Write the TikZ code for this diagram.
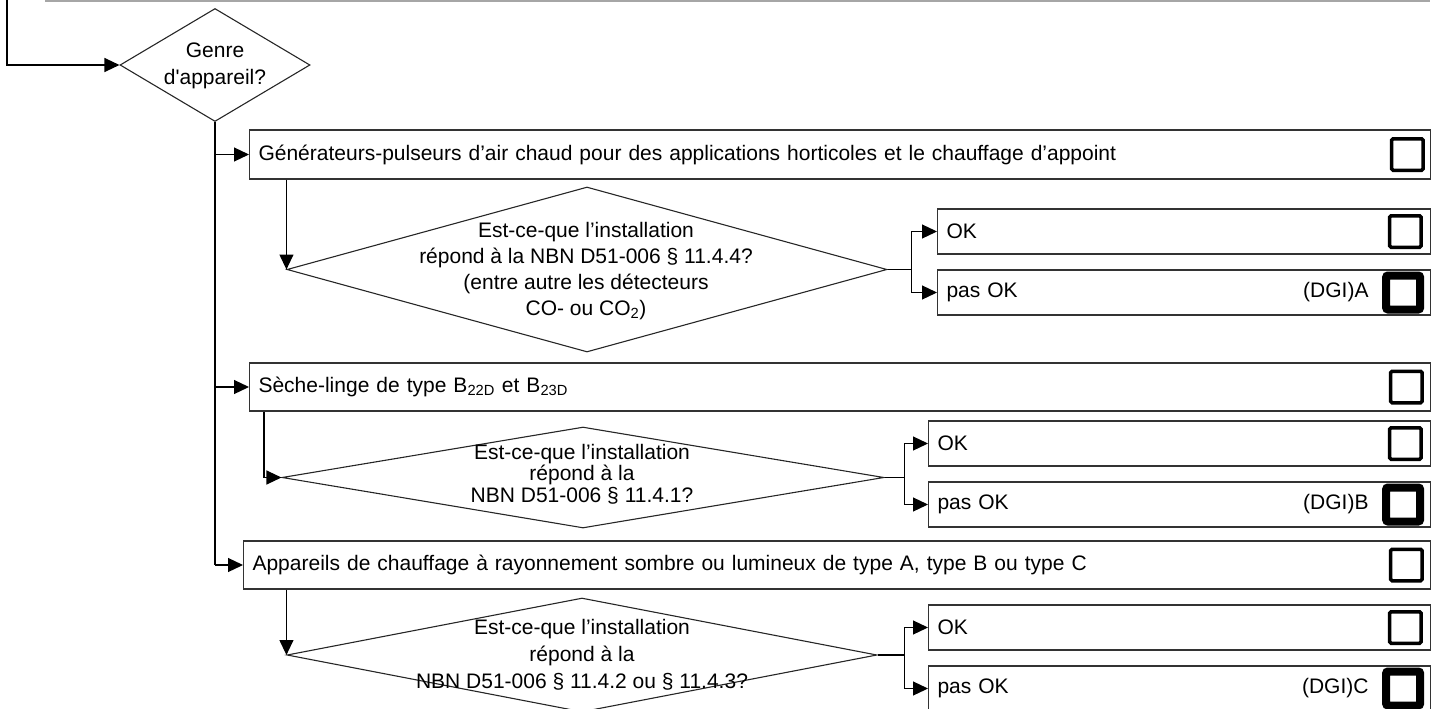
\documentclass[tikz,border=0pt]{standalone}
\usepackage{fontspec}
\setmainfont{Liberation Sans}
\usetikzlibrary{shapes.geometric}
\usetikzlibrary{arrows.meta}
\usetikzlibrary{positioning,calc}

\tikzset{
  flow/.style={draw=black, line width=1.2pt, -{Triangle[length=15pt,width=14pt]}},
  wire/.style={draw=black, line width=1.2pt},
  question/.style={shape=diamond, draw=black!85, line width=1.1pt, inner sep=0pt},
  qtext/.style={align=center, inner sep=0pt, font=\fontsize{21}{#1}\selectfont},
  answer/.style={draw=black!80, line width=1.1pt, anchor=west, minimum height=45pt,
                 inner xsep=9pt, inner ysep=0pt, text width=#1, align=left},
  chkbox/.style={draw=black, line width=3.5pt, rounded corners=1.5pt, minimum size=31.5pt,
                 inner sep=0pt, outer sep=0pt},
  chkdgi/.style={chkbox, line width=8pt, rounded corners=2pt, minimum size=34pt},
}
\newcommand{\dgi}[1]{pas OK\hfill(DGI)#1\rule{53pt}{0pt}}

\begin{document}
\begin{tikzpicture}[x=1pt, y=-1pt, font=\fontsize{21}{26}\selectfont]
  \path[use as bounding box, clip] (0,0) rectangle (1437,709);

  \draw[line width=2pt, black!35] (45,1) -- (1430,1);
  \coordinate (prev) at (7,-4);

  \node[question, minimum width=190pt, minimum height=113pt] (g) at (215,65) {};
  \node[qtext=27pt] (gt) at (215,66) {Genre\\d\textquotesingle appareil?};
  \draw[flow] (prev) |- (g.west);

  \node[answer=1163pt, minimum height=49pt] (b1) at (249,154.5)
    {Générateurs-pulseurs d’air chaud pour des applications horticoles et le chauffage d’appoint};
  \node[answer=1163pt, minimum height=48pt] (b2) at (249,387)
    {Sèche-linge de type B\textsubscript{22D} et B\textsubscript{23D}};
  \node[answer=1169pt, minimum height=48pt] (b3) at (243,565)
    {Appareils de chauffage à rayonnement sombre ou lumineux de type A, type B ou type C};
  \node[chkbox, left=8pt of b1.east] (c1) {};
  \node[chkbox, left=9pt of b2.east] (c2) {};
  \node[chkbox, left=9pt of b3.east] (c3) {};

  \draw[wire] (g.south) -- (g.south |- b3);
  \draw[flow] (g.south |- b1) -- (b1);
  \draw[flow] (g.south |- b2) -- (b2);
  \draw[flow] (g.south |- b3) -- (b3);

  \node[question, minimum width=600pt, minimum height=165pt] (q1) at (587,269.5) {};
  \node[qtext=26pt] (q1t) at (586,271)
    {Est-ce-que l’installation\\répond à la NBN D51-006 § 11.4.4?\\(entre autre les détecteurs\\CO- ou CO\textsubscript{2})};
  \node[question, minimum width=602pt, minimum height=101pt] (q2) at (583,477.5) {};
  \node[qtext=21.5pt] (q2t) at (582,474)
    {Est-ce-que l’installation\\répond à la\\NBN D51-006 § 11.4.1?};
  \node[question, minimum width=590pt, minimum height=114pt] (q3) at (582,655) {};
  \node[qtext=27pt] (q3t) at (582,655)
    {Est-ce-que l’installation\\répond à la\\NBN D51-006 § 11.4.2 ou § 11.4.3?};

  \draw[flow] (b1.south -| q1.west) -- (q1.west);
  \draw[flow] ($(b2.south west)+(15,0)$) |- (q2.west);
  \draw[flow] (b3.south -| q3.west) -- (q3.west);

  \node[answer=475pt] (oka) at (937,231.5) {OK};
  \node[answer=475pt] (noka) at (937,292.5) {\dgi{A}};
  \node[answer=484pt] (okb) at (928,443.5) {OK};
  \node[answer=484pt] (nokb) at (928,504.5) {\dgi{B}};
  \node[answer=484pt] (okc) at (928,627.5) {OK};
  \node[answer=484pt] (nokc) at (928,688.5) {\dgi{C}};

  \node[chkbox, left=10pt of oka.east] (xa) {};
  \node[chkdgi, left=11pt of noka.east] (ya) {};
  \node[chkbox, left=10pt of okb.east] (xb) {};
  \node[chkdgi, left=11pt of nokb.east] (yb) {};
  \node[chkbox, left=10pt of okc.east] (xc) {};
  \node[chkdgi, left=11pt of nokc.east] (yc) {};

  \draw[flow] (q1.east) -- ++(24,0) |- (oka);
  \draw[flow] (q1.east) -- ++(24,0) |- (noka);
  \draw[flow] (q2.east) -- ++(20,0) |- (okb);
  \draw[flow] (q2.east) -- ++(20,0) |- (nokb);
  \draw[flow] (q3.east) -- ++(27,0) |- (okc);
  \draw[flow] (q3.east) -- ++(27,0) |- (nokc);
\end{tikzpicture}
\end{document}
